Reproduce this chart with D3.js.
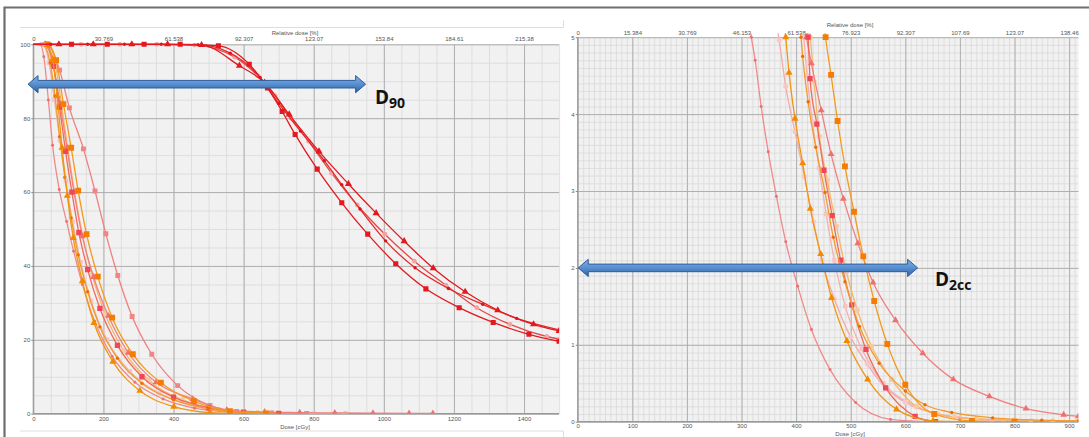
<!DOCTYPE html>
<html>
<head>
<meta charset="utf-8">
<script src="https://cdn.jsdelivr.net/npm/d3@7"></script>
<style>
  body { margin: 0; background: #fff; }
  svg { display: block; font-family: "Liberation Sans", Arial, sans-serif; }
</style>
</head>
<body>
<div id="chart"></div>
<script>

// ---- tick labels ----
var leftDoseTicks = [0, 200, 400, 600, 800, 1000, 1200, 1400];
var leftRelLabels = ["0", "30.769", "61.538", "92.307", "123.07", "153.84", "184.61", "215.38"];
var leftVolTicks = [0, 20, 40, 60, 80, 100];

var rightDoseTicks = [0, 100, 200, 300, 400, 500, 600, 700, 800, 900];
var rightRelLabels = ["0", "15.384", "30.769", "46.153", "61.538", "76.923", "92.307", "107.69", "123.07", "138.46"];
var rightVolTicks = [0, 1, 2, 3, 4, 5];

// ---- left panel: target curves [dose cGy, volume %] ----
var ptvSquare = [[0,100],[109,100],[211,100],[316,100],[419,100],[528,99.6],[616,94.6],[668,88.2],[710,81.8],[747,75.6],[810,66.2],[880,57.1],[954,48.6],[1034,40.6],[1120,33.8],[1215,28.7],[1312,24.7],[1414,21.5],[1500,19.6]];
var ptvTriangle = [[0,100],[73,100],[171,100],[281,100],[383,100],[480,99.8],[588,94.2],[660,89.6],[730,81],[815,71],[899,62.2],[978,54.3],[1058,46.7],[1141,39.4],[1232,33.0],[1325,28.0],[1427,24.2],[1500,22.4]];
var ptvDot = [[0,100],[50,100],[155,100],[260,100],[365,100],[470,99.9],[562,97.6],[647,91],[700,84],[762,76.5],[830,68.5],[880,62],[932,55.4],[1005,46.8],[1089,39.5],[1184,33.9],[1282,29.6],[1379,25.8],[1500,22.7]];
var ptvLight = [[0,100],[30,100],[136,100],[247,100],[352,100],[460,99.8],[575,96.5],[640,91.5],[690,86],[735,80],[785,73.8],[851,65.1],[924,56.5],[1003,48.6],[1087,41.3],[1177,34.8],[1265,28.7],[1360,24.2],[1465,20.9],[1500,20.2]];

// ---- left panel: organ at risk curves ----
var oarPinkSquare = [[0,100],[45,99.5],[75,93],[103,82.8],[143,71.7],[176,60.3],[207,48.7],[241,37.4],[282,26.3],[338,16.1],[412,7.6],[504,2.2],[580,0.6],[680,0.2],[780,0.1]];
var oarOrangeTriangle = [[0,100],[35,100],[55,96],[68,86],[82,72],[97,59],[114,47.6],[140,35.9],[173,24.6],[227,14.1],[304,6.2],[401,1.9],[504,0.3],[600,0.05]];
var oarOrangeSquare = [[0,100],[40,100],[65,95.7],[86,83.8],[108,72],[128,60.4],[152,48.6],[184,37.1],[225,26],[284,16.1],[364,8.4],[458,3.4],[561,0.7],[664,0.1]];
var oarPinkDot = [[0,100],[20,100],[30,96.6],[43,84.9],[55,72.7],[74,60.7],[95,52],[115,44],[140,35],[175,25],[225,15.5],[290,8.5],[370,4],[460,1.5],[560,0.4],[660,0.1]];
var oarPinkTriangle = [[0,100],[32,100],[55,95],[76,84],[96,72],[116,60],[140,48],[172,37],[214,26.5],[271,16.5],[350,8.5],[455,4.0],[552,1.0],[660,0.45],[760,0.3],[860,0.2],[969,0.12],[1072,0.07],[1140,0.05]];
var oarOrangeDot = [[0,100],[28,100],[48,95],[62,86],[75,75],[90,64],[108,53],[128,43],[155,33],[190,23.5],[240,15],[310,8.2],[400,3.8],[500,1.3],[600,0.4],[700,0.1]];
var oarRedSquare = [[0,100],[38,100],[58,94],[75,83],[92,71],[110,60],[130,49],[155,39],[190,28.5],[240,18.5],[310,10],[400,4.5],[500,1.6],[600,0.4],[700,0.1]];
var oarLightOrange = [[0,100],[42,100],[62,95],[80,84],[98,72],[118,60],[140,48.5],[168,37.5],[205,27],[258,17],[330,9],[425,3.8],[530,1.1],[640,0.3],[760,0.1],[890,0.05]];
var oarLightPink = [[0,100],[25,100],[45,95],[60,85],[76,74],[93,63],[112,52],[135,41],[165,30.5],[210,20],[275,11.5],[360,5.5],[460,2],[570,0.6],[680,0.2],[800,0.05]];

// ---- right panel: low volume tail [dose cGy, volume cc] ----
var tailPinkDot = [[314,5.2],[318,5.0],[325,4.7],[336,4.1],[349,3.51],[364,2.93],[381,2.34],[403,1.76],[428,1.2],[462,0.68],[509,0.25],[573,0.03],[636,0.0]];
var tailLightPink = [[364,5.2],[369,4.96],[381,4.36],[398,3.77],[415,3.19],[432,2.6],[447,2.1],[470,1.6],[500,1.1],[530,0.75],[563,0.45],[600,0.25],[660,0.1],[758,0.02]];
var tailOrangeTriangle = [[378,5.2],[381,5.0],[387,4.54],[398,3.94],[412,3.36],[426,2.77],[445,2.18],[465,1.61],[493,1.05],[531,0.55],[584,0.16],[651,0.01],[700,0]];
var tailOrangeSquare = [[451,5.2],[454,5.0],[464,4.51],[476,3.91],[489.5,3.32],[506,2.73],[523,2.15],[543,1.57],[567,1.01],[600,0.48],[653,0.1],[722,0.01],[800,0]];
var tailPinkTriangle = [[415,5.2],[419,5.0],[428,4.66],[446,4.05],[464,3.48],[486.5,2.9],[513,2.32],[541,1.81],[582,1.32],[632,0.89],[688,0.55],[754,0.33],[821,0.17],[890,0.09],[917,0.07]];
var tailRedSquare = [[418,5.2],[422,5.0],[425.5,4.46],[438,3.87],[451,3.27],[466,2.68],[481.5,2.1],[502,1.52],[528,0.94],[564,0.44],[618,0.07],[655,0]];
var tailOrangeDot = [[406,5.2],[409,5.0],[412,4.75],[422,4.16],[436,3.57],[453,2.98],[468,2.4],[489.5,1.82],[516,1.24],[552,0.76],[600,0.4],[636,0.22],[685,0.12],[760,0.05],[850,0.02],[917,0.01]];
var tailLightOrange = [[423,5.2],[426,5.0],[433,4.42],[442.5,3.71],[457,3.14],[474,2.54],[492,1.95],[512,1.45],[538,0.98],[575,0.55],[620,0.2],[690,0.06],[730,0.04],[800,0.02],[870,0.01],[917,0.01]];
var tailLightPinkSquare = [[410,5.2],[414,5.0],[420,4.5],[430,3.9],[442,3.3],[455,2.7],[470,2.1],[490,1.5],[520,0.95],[560,0.5],[620,0.2],[700,0.05],[780,0.02],[830,0.01]];

// line / marker styles
var styles = {
    ptvSq:   { line: "#e3191f", fill: "#e3191f", sym: d3.symbolSquare,   size: 26 },
    ptvTri:  { line: "#e3191f", fill: "#e3191f", sym: d3.symbolTriangle, size: 22 },
    ptvDot:  { line: "#e62a2a", fill: "#d81418", sym: d3.symbolCircle,   size: 9 },
    ptvLt:   { line: "#e8474a", fill: "#f3a3a3", sym: d3.symbolCircle,   size: 18 },
    pinkSq:  { line: "#f07f7f", fill: "#f08585", sym: d3.symbolSquare,   size: 24 },
    orTri:   { line: "#f0960f", fill: "#f28a00", sym: d3.symbolTriangle, size: 22 },
    orSq:    { line: "#f39a1e", fill: "#f57c00", sym: d3.symbolSquare,   size: 34 },
    pinkDot: { line: "#f08a8a", fill: "#ee6f6f", sym: d3.symbolCircle,   size: 7 },
    pinkTri: { line: "#f08080", fill: "#f07070", sym: d3.symbolTriangle, size: 20 },
    orDot:   { line: "#f29b2c", fill: "#ef6c00", sym: d3.symbolCircle,   size: 9 },
    redSq:   { line: "#f06a5a", fill: "#f0455a", sym: d3.symbolSquare,   size: 28 },
    ltOr:    { line: "#f5b56a", fill: "#f8c9a0", sym: d3.symbolCircle,   size: 22 },
    ltPink:  { line: "#f4b0b0", fill: "#f7c4c4", sym: d3.symbolSquare,   size: 20 },
    ltPinkC: { line: "#f4aaaa", fill: "#f7c8c8", sym: d3.symbolCircle,   size: 20 }
};

var leftSeries = [
    { data: oarLightPink, st: "ltPink" },
    { data: oarLightOrange, st: "ltOr" },
    { data: oarPinkDot, st: "pinkDot" },
    { data: oarPinkTriangle, st: "pinkTri" },
    { data: oarPinkSquare, st: "pinkSq" },
    { data: oarRedSquare, st: "redSq" },
    { data: oarOrangeDot, st: "orDot" },
    { data: oarOrangeTriangle, st: "orTri" },
    { data: oarOrangeSquare, st: "orSq" },
    { data: ptvLight, st: "ptvLt" },
    { data: ptvDot, st: "ptvDot" },
    { data: ptvTriangle, st: "ptvTri" },
    { data: ptvSquare, st: "ptvSq" }
];

var rightSeries = [
    { data: tailLightPinkSquare, st: "ltPink" },
    { data: tailLightPink, st: "ltPinkC" },
    { data: tailLightOrange, st: "ltOr" },
    { data: tailPinkDot, st: "pinkDot" },
    { data: tailPinkTriangle, st: "pinkTri" },
    { data: tailRedSquare, st: "redSq" },
    { data: tailOrangeDot, st: "orDot" },
    { data: tailOrangeTriangle, st: "orTri" },
    { data: tailOrangeSquare, st: "orSq" }
];

// panel geometry
var leftPanel = {
    id: "L", x0: 33.3, x1: 559.1, yTop: 44.3, yBot: 413.7,
    doseMax: 1500, volMax: 100, doseMinor: 50, volMinor: 5,
    doseTicks: leftDoseTicks, relLabels: leftRelLabels, volTicks: leftVolTicks,
    titleX: 295, relTitleY: 35, doseTitleY: 429, topPad: 3, botPad: 3
};
var rightPanel = {
    id: "R", x0: 577.7, x1: 1078.4, yTop: 37.2, yBot: 421.7,
    doseMax: 917, volMax: 5, doseMinor: 10, volMinor: 0.1,
    doseTicks: rightDoseTicks, relLabels: rightRelLabels, volTicks: rightVolTicks,
    titleX: 850, relTitleY: 27, doseTitleY: 436, topPad: 2.5, botPad: 2
};

//create svg wrapper
var svg = d3.select("#chart")
    .append("svg")
    .attr("width", 1089)
    .attr("height", 437);

svg.append("rect").attr("width", 1089).attr("height", 437).attr("fill", "#fff");

// outer frame (top and left)
svg.append("path")
    .attr("d", "M4.5,437V7.5H1089")
    .attr("fill", "none")
    .attr("stroke", "#6e6e6e")
    .attr("stroke-width", 2.2);

// left chart box edges
svg.append("path")
    .attr("d", "M20,27.5H563.5V20M20,431H563.5V437")
    .attr("fill", "none")
    .attr("stroke", "#dedede")
    .attr("stroke-width", 1);

var defs = svg.append("defs");
var plainNum = d3.format("d");

function styleAxisText(sel) {
    sel.select(".domain").remove();
    sel.selectAll("text")
        .attr("font-size", 6)
        .attr("font-family", "Liberation Sans, Arial, sans-serif")
        .attr("fill", "#555");
    sel.selectAll("line").attr("stroke", "#888");
}

function drawPanel(p, series) {
    var x = d3.scaleLinear().domain([0, p.doseMax]).range([p.x0, p.x1]);
    var y = d3.scaleLinear().domain([0, p.volMax]).range([p.yBot, p.yTop]);
    var w = p.x1 - p.x0;
    var h = p.yBot - p.yTop;
    var g = svg.append("g");

    // plot background
    g.append("rect")
        .attr("x", p.x0).attr("y", p.yTop)
        .attr("width", w).attr("height", h)
        .attr("fill", "#f1f1f1");

    // minor grid
    g.append("g")
        .attr("transform", `translate(0, ${p.yBot})`)
        .call(d3.axisBottom(x).tickValues(d3.range(0, p.doseMax + 1e-6, p.doseMinor)).tickSize(-h).tickFormat(""))
        .call(s => s.select(".domain").remove())
        .selectAll("line").attr("stroke", "#d9d9d9").attr("stroke-width", 0.8);
    g.append("g")
        .attr("transform", `translate(${p.x0}, 0)`)
        .call(d3.axisLeft(y).tickValues(d3.range(0, p.volMax + 1e-6, p.volMinor)).tickSize(-w).tickFormat(""))
        .call(s => s.select(".domain").remove())
        .selectAll("line").attr("stroke", "#d9d9d9").attr("stroke-width", 0.8);

    // major grid
    g.append("g")
        .attr("transform", `translate(0, ${p.yBot})`)
        .call(d3.axisBottom(x).tickValues(p.doseTicks).tickSize(-h).tickFormat(""))
        .call(s => s.select(".domain").remove())
        .selectAll("line").attr("stroke", "#b0b0b0").attr("stroke-width", 1);
    g.append("g")
        .attr("transform", `translate(${p.x0}, 0)`)
        .call(d3.axisLeft(y).tickValues(p.volTicks).tickSize(-w).tickFormat(""))
        .call(s => s.select(".domain").remove())
        .selectAll("line").attr("stroke", "#b0b0b0").attr("stroke-width", 1);

    // axis lines
    g.append("path")
        .attr("d", `M${p.x0},${p.yTop}V${p.yBot}H${p.x1}`)
        .attr("fill", "none")
        .attr("stroke", "#999")
        .attr("stroke-width", 1.2);

    // bottom dose labels
    g.append("g")
        .attr("transform", `translate(0, ${p.yBot})`)
        .call(d3.axisBottom(x).tickValues(p.doseTicks).tickSize(0).tickPadding(p.botPad).tickFormat(plainNum))
        .call(styleAxisText);

    // top relative dose labels
    g.append("g")
        .attr("transform", `translate(0, ${p.yTop})`)
        .call(d3.axisTop(x).tickValues(p.doseTicks).tickSize(0).tickPadding(p.topPad)
            .tickFormat((d, i) => p.relLabels[i]))
        .call(styleAxisText);

    // left volume labels
    g.append("g")
        .attr("transform", `translate(${p.x0}, 0)`)
        .call(d3.axisLeft(y).tickValues(p.volTicks).tickSize(2).tickPadding(1).tickFormat(plainNum))
        .call(styleAxisText);

    // axis titles
    g.append("text")
        .attr("x", p.titleX).attr("y", p.relTitleY)
        .attr("text-anchor", "middle")
        .attr("font-size", 6).attr("fill", "#555")
        .text("Relative dose [%]");
    g.append("text")
        .attr("x", p.titleX).attr("y", p.doseTitleY)
        .attr("text-anchor", "middle")
        .attr("font-size", 6).attr("fill", "#555")
        .text("Dose [cGy]");

    // clip for curves
    defs.append("clipPath").attr("id", "clip" + p.id)
        .append("rect")
        .attr("x", p.x0 - 4).attr("y", p.yTop - 4)
        .attr("width", w + 4).attr("height", h + 4);

    var line = d3.line()
        .x(d => x(d[0]))
        .y(d => y(d[1]))
        .curve(d3.curveMonotoneX);

    var curves = g.append("g").attr("clip-path", `url(#clip${p.id})`);

    series.forEach(function(s) {
        var st = styles[s.st];
        curves.append("path")
            .attr("d", line(s.data))
            .attr("fill", "none")
            .attr("stroke", st.line)
            .attr("stroke-width", 1.3);

        curves.selectAll(null)
            .data(s.data.filter((d, i) => i > 0 && d[1] <= p.volMax && d[0] <= p.doseMax))
            .enter()
            .append("path")
            .attr("transform", d => `translate(${x(d[0])}, ${y(d[1])})`)
            .attr("d", d3.symbol(st.sym, st.size))
            .attr("fill", st.fill);
    });

    return { x: x, y: y };
}

var left = drawPanel(leftPanel, leftSeries);
var right = drawPanel(rightPanel, rightSeries);

// blue double arrows
var grad = defs.append("linearGradient")
    .attr("id", "arrowGrad")
    .attr("x1", 0).attr("y1", 0).attr("x2", 0).attr("y2", 1);
grad.append("stop").attr("offset", "0%").attr("stop-color", "#7eb0e3");
grad.append("stop").attr("offset", "45%").attr("stop-color", "#5b93d3");
grad.append("stop").attr("offset", "100%").attr("stop-color", "#2f63a8");

function drawArrow(xa, xb, yc) {
    var st = 3.8, hh = 8.6, hl = 10;
    var d = `M${xa},${yc}L${xa + hl},${yc - hh}L${xa + hl},${yc - st}L${xb - hl},${yc - st}` +
        `L${xb - hl},${yc - hh}L${xb},${yc}L${xb - hl},${yc + hh}L${xb - hl},${yc + st}` +
        `L${xa + hl},${yc + st}L${xa + hl},${yc + hh}Z`;
    svg.append("path")
        .attr("d", d)
        .attr("fill", "url(#arrowGrad)")
        .attr("stroke", "#2d5c9a")
        .attr("stroke-width", 1)
        .attr("stroke-linejoin", "round");
}

drawArrow(left.x(-15), left.x(948), left.y(89.2));
drawArrow(right.x(1), right.x(622.5), right.y(2));

// D90 / D2cc labels
function drawLabel(xp, yp, sub) {
    var t = svg.append("text")
        .attr("x", xp).attr("y", yp)
        .attr("font-family", "'Open Sans', Lato, sans-serif")
        .attr("font-weight", 700)
        .attr("font-size", 19)
        .attr("fill", "#111");
    t.append("tspan").text("D");
    t.append("tspan")
        .attr("dy", 4)
        .attr("font-size", 14)
        .text(sub);
}

drawLabel(375, 103.5, "90");
drawLabel(935, 285.5, "2cc");

</script>
</body>
</html>
